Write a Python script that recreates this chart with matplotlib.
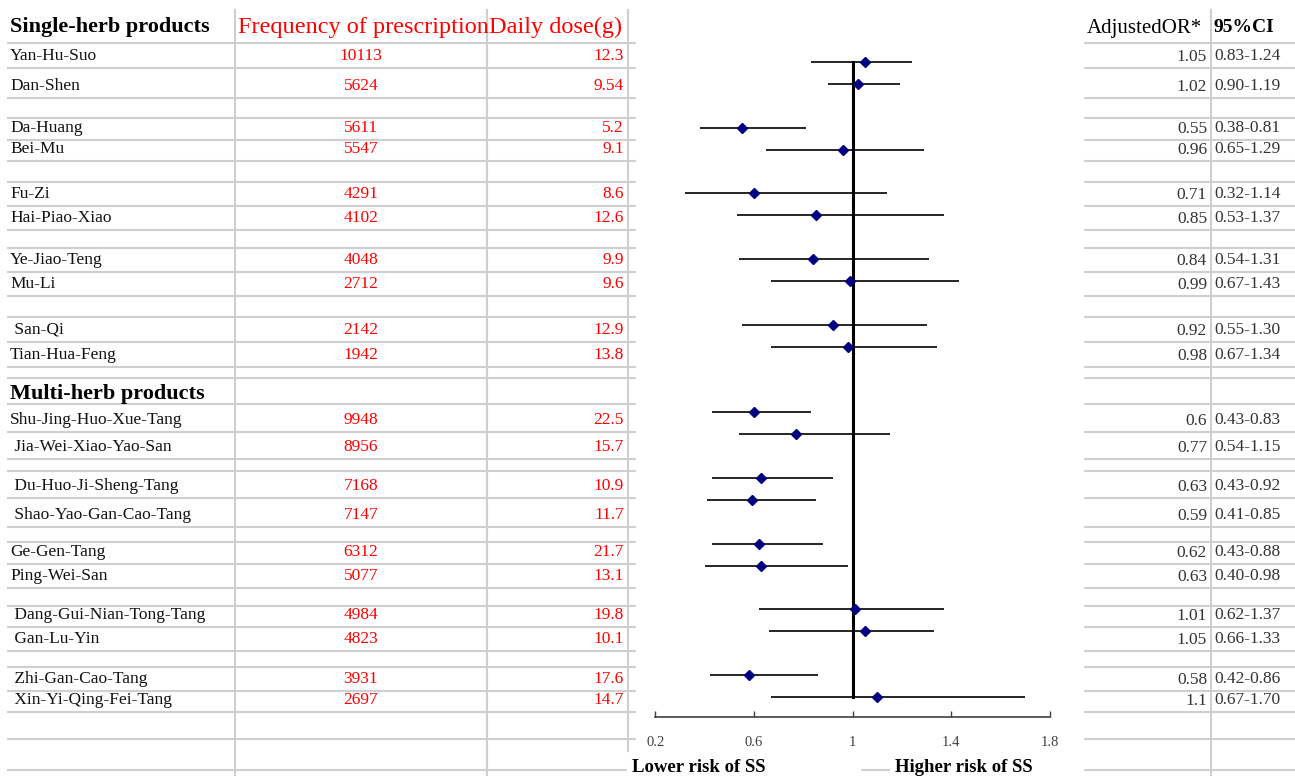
import matplotlib.pyplot as plt
from matplotlib.patches import Rectangle

# table data
single_names = ["Yan-Hu-Suo", "Dan-Shen", "Da-Huang", "Bei-Mu", "Fu-Zi", "Hai-Piao-Xiao",
                "Ye-Jiao-Teng", "Mu-Li", " San-Qi", "Tian-Hua-Feng"]
single_freq = [10113, 5624, 5611, 5547, 4291, 4102, 4048, 2712, 2142, 1942]
single_dose = ["12.3", "9.54", "5.2", "9.1", "8.6", "12.6", "9.9", "9.6", "12.9", "13.8"]
single_or = [1.05, 1.02, 0.55, 0.96, 0.71, 0.85, 0.84, 0.99, 0.92, 0.98]
single_lo = [0.83, 0.90, 0.38, 0.65, 0.32, 0.53, 0.54, 0.67, 0.55, 0.67]
single_hi = [1.24, 1.19, 0.81, 1.29, 1.14, 1.37, 1.31, 1.43, 1.30, 1.34]
# diamonds as drawn in the chart (Fu-Zi marker sits left of its table value)
single_marker = [1.05, 1.02, 0.55, 0.96, 0.60, 0.85, 0.84, 0.99, 0.92, 0.98]

multi_names = ["Shu-Jing-Huo-Xue-Tang", " Jia-Wei-Xiao-Yao-San", " Du-Huo-Ji-Sheng-Tang",
               " Shao-Yao-Gan-Cao-Tang", "Ge-Gen-Tang", "Ping-Wei-San", " Dang-Gui-Nian-Tong-Tang",
               " Gan-Lu-Yin", " Zhi-Gan-Cao-Tang", " Xin-Yi-Qing-Fei-Tang"]
multi_freq = [9948, 8956, 7168, 7147, 6312, 5077, 4984, 4823, 3931, 2697]
multi_dose = ["22.5", "15.7", "10.9", "11.7", "21.7", "13.1", "19.8", "10.1", "17.6", "14.7"]
multi_or = [0.6, 0.77, 0.63, 0.59, 0.62, 0.63, 1.01, 1.05, 0.58, 1.1]
multi_lo = [0.43, 0.54, 0.43, 0.41, 0.43, 0.40, 0.62, 0.66, 0.42, 0.67]
multi_hi = [0.83, 1.15, 0.92, 0.85, 0.88, 0.98, 1.37, 1.33, 0.86, 1.70]

xticks = [0.2, 0.6, 1, 1.4, 1.8]
xticklabels = ["0.2", "0.6", "1", "1.4", "1.8"]

# spreadsheet layout (pixels)
grid_y = [42.7, 68.3, 97.7, 118.3, 140, 160.7, 181.7, 205.7, 230, 248.3, 272.3, 295.7,
          316.7, 341.7, 366.7, 378.3, 404, 432.3, 459.3, 470.7, 498.3, 526.7, 542.3,
          564.3, 588.3, 606, 626.7, 650.7, 666.7, 691, 711.7, 739.3, 770]
grid_x = [235, 487, 628, 1211]
W, H = 1295, 776

serif = "Liberation Serif"
red = "#ff0000"
grey = "#cfcfcf"


def row_index(k, start):
    # pairs of rows separated by one blank row
    return start + 3 * (k // 2) + k % 2


fig = plt.figure(figsize=(W / 100, H / 100), dpi=100)
ax = fig.add_axes([0, 0, 1, 1])
ax.set_xlim(0, W)
ax.set_ylim(H, 0)
ax.axis("off")

# grid
for y in grid_y:
    ax.plot([8, W], [y, y], color=grey, lw=1.5, zorder=1)
for x in grid_x:
    ax.plot([x, x], [10, H], color=grey, lw=1.5, zorder=1)

# chart area and label boxes cover the grid
ax.add_patch(Rectangle((636, 0), 1083 - 636, 752, color="white", zorder=2))
ax.add_patch(Rectangle((627, 752), 860 - 627, 30, color="white", zorder=2))
ax.add_patch(Rectangle((890, 752), 1083 - 890, 30, color="white", zorder=2))

# headers
ax.text(10, 27, "Single-herb products", fontsize=16, fontweight="bold", family=serif,
        va="center", zorder=3)
t = ax.text(238, 27, "Frequency of prescription", fontsize=17.5, color=red, family=serif,
            va="center", zorder=3)
t.set_clip_path(Rectangle((235, 0), 252, 42, transform=ax.transData))
ax.text(489, 27, "Daily dose(g)", fontsize=17.5, color=red, family=serif, va="center", zorder=3)
ax.text(1087, 28, "AdjustedOR*", fontsize=15, family=serif, va="center", zorder=3)
ax.text(1213, 27, "95%CI", fontsize=14, fontweight="bold", family=serif, va="center", zorder=3)
ax.text(10, 394, "Multi-herb products", fontsize=16, fontweight="bold", family=serif,
        va="center", zorder=3)


def table_rows(names, freq, dose, ors, lo, hi, start):
    for k in range(len(names)):
        yc = grid_y[row_index(k, start)] - 12
        ax.text(10, yc, names[k], fontsize=12.5, family=serif, va="center", color="#111111", zorder=3)
        ax.text(361, yc, str(freq[k]), fontsize=12.5, family=serif, va="center", ha="center",
                color=red, zorder=3)
        ax.text(624, yc, dose[k], fontsize=12.5, family=serif, va="center", ha="right",
                color=red, zorder=3)
        ax.text(1207, yc + 1, "%g" % ors[k], fontsize=12.5, family=serif, va="center", ha="right",
                color="#333333", zorder=3)
        ax.text(1214, yc, "%.2f-%.2f" % (lo[k], hi[k]), fontsize=12.5, family=serif,
                va="center", ha="left", color="#333333", zorder=3)


table_rows(single_names, single_freq, single_dose, single_or, single_lo, single_hi, 1)
table_rows(multi_names, multi_freq, multi_dose, multi_or, multi_lo, multi_hi, 17)

ax.text(632, 767, "Lower risk of SS", fontsize=13.5, fontweight="bold", family=serif,
        va="center", zorder=3)
ax.text(895, 767, "Higher risk of SS", fontsize=13.5, fontweight="bold", family=serif,
        va="center", zorder=3)

# forest plot
fx0, fx1 = 655.3, 1050
fy_top, fy_bot = 51.05, 716.7
fax = fig.add_axes([fx0 / W, (H - fy_bot) / H, (fx1 - fx0) / W, (fy_bot - fy_top) / H])
fax.patch.set_alpha(0)
fax.set_zorder(5)

s_slots = [row_index(k, 0) for k in range(len(single_or))]
m_slots = [row_index(k, 16) for k in range(len(multi_or))]
slots = s_slots + m_slots
marks = single_marker + multi_or
los = single_lo + multi_lo
his = single_hi + multi_hi

fax.plot([1, 1], [slots[0], slots[-1]], color="black", lw=2.2, zorder=2)
fax.hlines(slots, los, his, color="black", lw=1.2, zorder=3)
fax.plot(marks, slots, linestyle="none", marker="D", markersize=5.5, color="#000080", zorder=4)

fax.set_xlim(0.2, 1.8)
fax.set_ylim(29.9, -0.5)
for side in ["top", "right", "left"]:
    fax.spines[side].set_visible(False)
fax.spines["bottom"].set_color("#404040")
fax.spines["bottom"].set_linewidth(1.2)
fax.set_yticks([])
fax.set_xticks(xticks)
fax.set_xticklabels(xticklabels, family=serif, fontsize=10.5, color="#404040")
fax.tick_params(axis="x", direction="in", length=4, width=1, color="#404040", pad=14)

fig.savefig("out.png", dpi=100)
